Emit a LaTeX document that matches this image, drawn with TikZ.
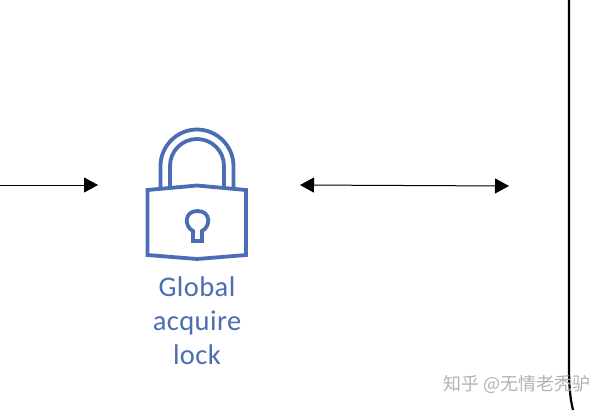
\documentclass[tikz,border=0pt]{standalone}
\usepackage{fontspec}
\setmainfont{Carlito}
\newfontfamily\cjk{Noto Sans CJK SC}
\usetikzlibrary{arrows.meta}
\definecolor{lockblue}{HTML}{4A6DB3}

\begin{document}
\begin{tikzpicture}[x=1pt, y=-1pt]
 \tikzstyle{lockline}=[draw=lockblue, line width=3.8pt, line join=miter]
 \tikzstyle{locktext}=[text=lockblue, font=\fontsize{28.5}{34}\selectfont\addfontfeature{LetterSpace=1.5}, inner sep=0pt, anchor=base]
 \tikzstyle{link}=[black, line width=1pt, -{Triangle[length=14pt, width=15pt]}]
 \tikzstyle{linkboth}=[black, line width=1pt, {Triangle[length=14pt, width=15pt]}-{Triangle[length=14pt, width=15pt]}]

\useasboundingbox (0,0) rectangle (608,410);

\coordinate (infrom) at (0,185);
\coordinate (into) at (98,185);
\coordinate (lockleft) at (300,185);
\coordinate (lockright) at (509,186);

\draw[link] (infrom) -- (into);
\draw[linkboth] (lockleft) -- (lockright);

% wall on the right
\draw[black, line width=2.2pt] (569,0)--(569,365) .. controls (569,385) and (570,398) .. (573,410);

% shackle
\draw[lockline] (160.5,188)--(160.5,166) .. controls (160.5,146) and (177,129.5) .. (197,129.5)
   .. controls (217,129.5) and (233.5,146) .. (233.5,166)--(233.5,188);
\draw[lockline] (170,187)--(170,166) .. controls (170,151) and (182,139) .. (197,139)
   .. controls (212,139) and (224,151) .. (224,166)--(224,187);

% body
\draw[lockline] (147.5,190)--(197,185.5)--(246,190)--(246,255)--(197,259)--(147.5,255)--cycle;

% keyhole
\draw[lockline] (193,241)--(193,231) .. controls (184,226.5) and (184,211) .. (197.5,211)
   .. controls (211,211) and (211,226.5) .. (202,231)--(202,241)--cycle;

\node[locktext] (lockglobal) at (197,296) {Global};
\node[locktext] (lockacquire) at (197,330) {acquire};
\node[locktext] (locklock) at (197,364) {lock};

\node[text=black!30, font=\cjk\fontsize{18}{20}\selectfont, inner sep=0pt, anchor=base west] (mark) at (443,390) {知乎 @无情老秃驴};

\end{tikzpicture}
\end{document}
